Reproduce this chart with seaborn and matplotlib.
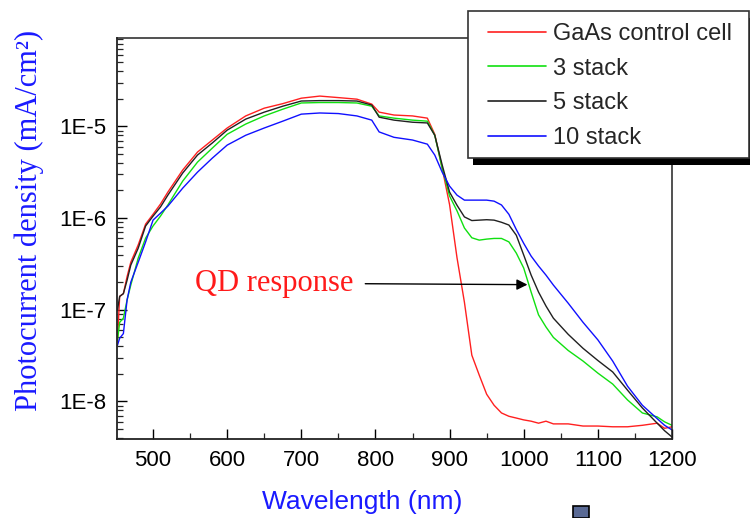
import numpy as np
import pandas as pd
import matplotlib
matplotlib.use("Agg")
import matplotlib.pyplot as plt
from matplotlib.patches import Rectangle
from matplotlib.ticker import FixedLocator, LogLocator, MultipleLocator, NullFormatter
import seaborn as sns

# ---------------- data ----------------
wavelength = [452, 455, 460, 465, 470, 480, 490, 500, 510, 520, 540, 560, 580, 600,
              625, 650, 675, 700, 725, 750, 775, 795, 805, 825, 850, 870, 880, 890,
              900, 910, 920, 930, 940, 950, 960, 970, 980, 990, 1000, 1010, 1020,
              1030, 1040, 1060, 1080, 1100, 1120, 1140, 1160, 1180, 1190, 1200]

gaas_control = [4.6e-8, 1.4e-7, 1.5e-7, 2.3e-7, 3.3e-7, 5.1e-7, 8.6e-7, 1.1e-6, 1.42e-6, 1.92e-6,
                3.34e-6, 5.25e-6, 7.1e-6, 9.6e-6, 1.30e-5, 1.58e-5, 1.77e-5, 2.03e-5, 2.14e-5, 2.06e-5,
                1.98e-5, 1.75e-5, 1.43e-5, 1.33e-5, 1.30e-5, 1.23e-5, 8.2e-6, 3.5e-6, 1.4e-6, 3.7e-7,
                1.21e-7, 3.2e-8, 1.94e-8, 1.2e-8, 9.1e-9, 7.5e-9, 6.9e-9, 6.6e-9, 6.3e-9, 6.1e-9,
                5.8e-9, 6.1e-9, 5.7e-9, 5.7e-9, 5.4e-9, 5.4e-9, 5.3e-9, 5.3e-9, 5.5e-9, 5.8e-9,
                5.1e-9, 5.3e-9]

stack_3 = [4.6e-8, 7.3e-8, 8.1e-8, 1.28e-7, 1.86e-7, 3.66e-7, 6.05e-7, 8.2e-7, 1.05e-6, 1.39e-6,
           2.53e-6, 4.08e-6, 5.8e-6, 8.2e-6, 1.06e-5, 1.30e-5, 1.54e-5, 1.80e-5, 1.82e-5, 1.82e-5,
           1.80e-5, 1.66e-5, 1.30e-5, 1.23e-5, 1.17e-5, 1.14e-5, 8.0e-6, 3.5e-6, 1.74e-6, 1.2e-6,
           7.8e-7, 6.1e-7, 5.75e-7, 5.9e-7, 6.0e-7, 6.0e-7, 5.5e-7, 4.15e-7, 2.85e-7, 1.56e-7,
           8.8e-8, 6.5e-8, 5.0e-8, 3.6e-8, 2.76e-8, 2.04e-8, 1.55e-8, 1.04e-8, 7.5e-9, 6.8e-9,
           6.0e-9, 5.5e-9]

stack_5 = [9.9e-8, 1.4e-7, 1.5e-7, 2.1e-7, 3.07e-7, 4.7e-7, 8.2e-7, 1.05e-6, 1.32e-6, 1.78e-6,
           3.1e-6, 4.87e-6, 6.6e-6, 9.1e-6, 1.2e-5, 1.43e-5, 1.66e-5, 1.89e-5, 1.91e-5, 1.91e-5,
           1.89e-5, 1.71e-5, 1.26e-5, 1.17e-5, 1.11e-5, 1.09e-5, 8.0e-6, 3.8e-6, 1.92e-6, 1.38e-6,
           1.03e-6, 9.4e-7, 9.5e-7, 9.6e-7, 9.5e-7, 9.0e-7, 8.4e-7, 6.5e-7, 3.95e-7, 2.39e-7,
           1.56e-7, 1.1e-7, 8.1e-8, 5.4e-8, 3.8e-8, 2.8e-8, 2.1e-8, 1.33e-8, 8.5e-9, 5.8e-9,
           4.8e-9, 4.1e-9]

stack_10 = [4.1e-8, 4.9e-8, 5.5e-8, 1.28e-7, 2.0e-7, 3.3e-7, 5.5e-7, 9.5e-7, 1.13e-6, 1.35e-6,
            2.12e-6, 3.17e-6, 4.51e-6, 6.25e-6, 8.0e-6, 9.6e-6, 1.14e-5, 1.36e-5, 1.40e-5, 1.38e-5,
            1.30e-5, 1.17e-5, 8.7e-6, 7.6e-6, 7.1e-6, 6.4e-6, 4.87e-6, 3.17e-6, 2.23e-6, 1.78e-6,
            1.57e-6, 1.57e-6, 1.57e-6, 1.57e-6, 1.53e-6, 1.39e-6, 1.1e-6, 7.5e-7, 5.3e-7, 3.85e-7,
            3.0e-7, 2.39e-7, 1.86e-7, 1.18e-7, 7.3e-8, 4.7e-8, 2.76e-8, 1.47e-8, 9.1e-9, 6.5e-9,
            5.5e-9, 4.9e-9]

series_names = ["GaAs control cell", "3 stack", "5 stack", "10 stack"]
series_colors = ["#ff2020", "#10e010", "#202020", "#1010ff"]

xtick_values = [500, 600, 700, 800, 900, 1000, 1100, 1200]
ytick_values = [1e-8, 1e-7, 1e-6, 1e-5]
ytick_labels = ["1E-8", "1E-7", "1E-6", "1E-5"]

annot_text = "QD response"
annot_tip = (1005, 1.88e-7)
annot_start = (557, 1.95e-7)

# ---------------- table ----------------
frames = []
for name, vals in zip(series_names, [gaas_control, stack_3, stack_5, stack_10]):
    frames.append(pd.DataFrame({"wavelength": wavelength, "current": vals, "sample": name}))
df = pd.concat(frames, ignore_index=True)

# ---------------- figure ----------------
sns.set_style("ticks")
plt.rcParams["font.family"] = ["Liberation Sans", "DejaVu Sans"]

W, H = 750, 518
fig = plt.figure(figsize=(W / 100, H / 100), dpi=100)
ax = fig.add_axes([117 / W, 1 - 439 / H, (672 - 117) / W, (439 - 38) / H])

sns.lineplot(data=df, x="wavelength", y="current", hue="sample",
             palette=dict(zip(series_names, series_colors)), hue_order=series_names,
             linewidth=1.0, legend=False, ax=ax, sort=False)

ax.set_yscale("log")
ax.set_xlim(451.4, 1200)
ax.set_ylim(3.9e-9, 9.2e-5)

ax.xaxis.set_major_locator(FixedLocator(xtick_values))
ax.xaxis.set_minor_locator(MultipleLocator(50))
ax.yaxis.set_major_locator(FixedLocator(ytick_values))
ax.set_yticklabels(ytick_labels)
ax.yaxis.set_minor_locator(LogLocator(base=10, subs=np.arange(2, 10)))
ax.yaxis.set_minor_formatter(NullFormatter())

ax.tick_params(which="major", direction="in", length=7, width=1.0, labelsize=16,
               pad=8, colors="black", top=False, right=False)
ax.tick_params(which="minor", direction="in", length=4, width=0.9,
               top=False, right=False)

for side in ["left", "bottom"]:
    ax.spines[side].set_linewidth(1.3)
for side in ["top", "right"]:
    ax.spines[side].set_linewidth(1.1)
for s in ax.spines.values():
    s.set_color("#222222")

ax.set_xlabel("Wavelength (nm)", fontsize=19, color="#1a1aff")
ax.xaxis.set_label_coords(0.4423, -0.127)
ax.set_ylabel("Photocurrent density (mA/cm²)", fontsize=22, color="#1a1aff",
              family=["Liberation Serif", "DejaVu Serif"])
ax.yaxis.set_label_coords(-0.132, 0.546)

ax.annotate(annot_text, xy=annot_tip, xytext=annot_start, fontsize=22,
            color="#ff1a1a", family=["Liberation Serif", "DejaVu Serif"],
            ha="left", va="center",
            arrowprops=dict(arrowstyle="-|>", color="black", lw=1.0,
                            mutation_scale=16, shrinkA=6, shrinkB=0))

# ---------------- legend box with black shadow ----------------
bx0, by0, bx1, by1 = 468, 11, 749, 158
fig.add_artist(Rectangle(((bx0 + 5) / W, 1 - (by1 + 7) / H), (bx1 - bx0) / W, (by1 - by0) / H,
                         transform=fig.transFigure, facecolor="black", edgecolor="none",
                         zorder=3, clip_on=False))
fig.add_artist(Rectangle((bx0 / W, 1 - by1 / H), (bx1 - bx0) / W, (by1 - by0) / H,
                         transform=fig.transFigure, facecolor="white", edgecolor="#333333",
                         linewidth=1.2, zorder=3.5, clip_on=False))

handles = ax.get_lines()[:4]
leg = fig.legend(handles, series_names, loc="center left",
                 bbox_to_anchor=(488 / W, 1 - 86 / H), frameon=False, fontsize=17,
                 handlelength=2.45, handletextpad=0.3, labelspacing=0.53,
                 borderpad=0, borderaxespad=0)
leg.set_zorder(4)
for line in leg.get_lines():
    line.set_linewidth(1.2)

# stray marker square at the bottom of the reference picture
fig.add_artist(Rectangle((573 / W, 0), 16 / W, 12 / H, transform=fig.transFigure,
                         facecolor="#5a6a95", edgecolor="black", linewidth=1.2,
                         zorder=3, clip_on=False))

fig.savefig("out.png", dpi=100)
